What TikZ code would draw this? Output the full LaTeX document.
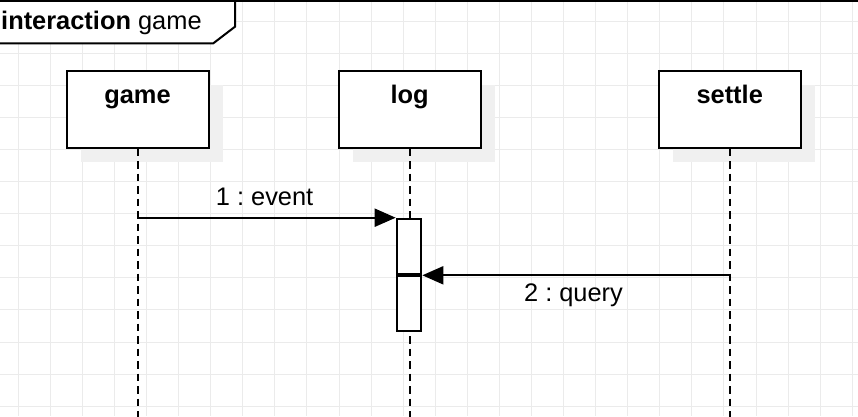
\documentclass[tikz,border=0pt]{standalone}
\usepackage{fontspec}
\setmainfont{Liberation Sans}
\usepackage{tikz}
\usetikzlibrary{arrows.meta,positioning,calc,shadows}
\usepackage{xcolor}
\definecolor{gridgray}{HTML}{EBEBEB}
\definecolor{shadowgray}{HTML}{F0F0F0}
\newcommand{\diagfont}{\fontsize{25.4}{30}\selectfont}
\frenchspacing

\begin{document}
\begin{tikzpicture}[x=1pt, y=-1pt, font=\diagfont,
    >={Triangle[length=21pt,width=18pt]},
    gridline/.style={gridgray, line width=1pt},
    actor/.style={draw, line width=2pt, fill=white, inner sep=0pt,
      minimum width=142pt, minimum height=77pt,
      general shadow={fill=shadowgray, shadow xshift=14pt, shadow yshift=-14pt}},
    actorname/.style={anchor=base, inner sep=0pt, font=\diagfont\bfseries},
    lifeline/.style={line width=2pt, dash pattern=on 7.5pt off 5pt},
    activation/.style={draw, line width=2pt, fill=white, inner sep=0pt,
      minimum width=24.6pt},
    msg/.style={->, line width=2pt},
    msglabel/.style={anchor=base, inner sep=0pt}]
  \useasboundingbox (0,0) rectangle (858,416);

  %% Grid
  \foreach \i in {0,...,26}{
    \draw[gridline] ({18.2+32.08*\i},0) -- ({18.2+32.08*\i},416);
  }
  \foreach \j in {0,...,12}{
    \draw[gridline] (0,{21.2+32.08*\j}) -- (858,{21.2+32.08*\j});
  }

  %% Frame with title tab
  \fill[white] (0,0) -- (235,0) -- (235,26.7) -- (213.3,43.3) -- (0,43.3) -- cycle;
  \draw[line width=2pt] (-2,1) -- (860,1);
  \draw[line width=2pt] (-2,43.3) -- (213.3,43.3) -- (235,26.7) -- (235,1);
  \node[anchor=base west, inner sep=0pt] (title) at (1,29.5)
    {\textbf{interaction} game};

  %% Lifeline heads
  \node[actor] (game)   at (137.5,109) {};
  \node[actor] (log)    at (409.7,109) {};
  \node[actor] (settle) at (729.7,109) {};
  \node[actorname] (gamename)   at (137.5,103.4) {game};
  \node[actorname] (logname)    at (409.7,103.4) {log};
  \node[actorname] (settlename) at (729.7,103.4) {settle};

  %% Lifelines
  \coordinate (bottom) at (0,418);
  \draw[lifeline] (game.south)   -- (game.south |- bottom);
  \draw[lifeline] (log.south)    -- (log.south |- bottom);
  \draw[lifeline] (settle.south) -- (settle.south |- bottom);

  %% Activations on log
  \node[activation, minimum height=55.6pt] (act1) at (409,246.5) {};
  \node[activation, minimum height=54.4pt] (act2) at (409,303.5) {};

  %% Messages
  \draw[msg] (game.south |- act1.north west) -- (act1.north west)
    node[msglabel, midway, xshift=-2pt, yshift=12.7pt] (event) {1 : event};
  \draw[msg] (settle.south |- act2.north east) -- (act2.north east)
    node[msglabel, midway, xshift=-2.5pt, yshift=-26.4pt] (query) {2 : query};
\end{tikzpicture}
\end{document}
